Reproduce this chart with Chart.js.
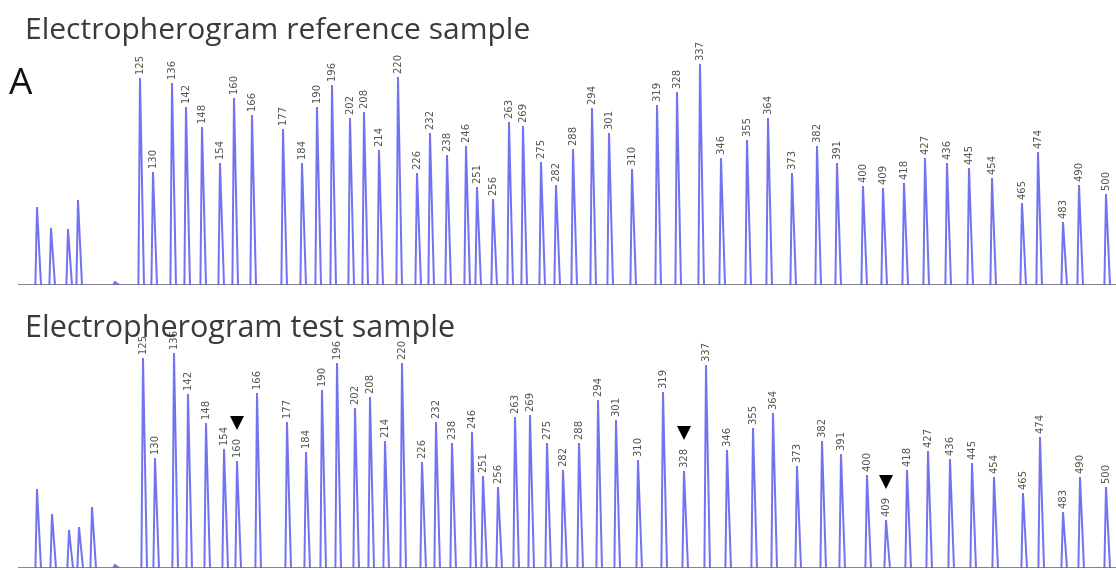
<!DOCTYPE html>
<html>
<head>
<meta charset="utf-8">
<script src="https://cdn.jsdelivr.net/npm/chart.js@4"></script>
<style>
  body { margin: 0; background: #fff; }
  #wrap { position: relative; width: 1116px; height: 570px; overflow: hidden; }
  .panel { position: absolute; left: 0; width: 1116px; }
  .title { position: absolute; font-family: "Open Sans", sans-serif; color: #3a3a3a; white-space: nowrap; }
</style>
</head>
<body>
<div id="wrap">
  <div class="panel" style="top:0;height:290px"><canvas id="refChart"></canvas></div>
  <div class="panel" style="top:290px;height:280px"><canvas id="testChart"></canvas></div>
  <div class="title" style="left:25px;top:8px;font-size:30px;line-height:40px">Electropherogram reference sample</div>
  <div class="title" style="left:9px;top:56px;font-size:37px;line-height:48px;color:#111">A</div>
  <div class="title" style="left:25px;top:305px;font-size:30.5px;line-height:40px">Electropherogram test sample</div>
</div>
<script>
// probe sizes (nt) labelled above every peak
var sizes = ['125','130','136','142','148','154','160','166','177','184','190','196','202','208','214','220',
  '226','232','238','246','251','256','263','269','275','282','288','294','301','310','319','328','337',
  '346','355','364','373','382','391','400','409','418','427','436','445','454','465','474','483','490','500'];

// reference sample: migration position and peak height
var refPos = [140,153,172,186,202,220,234,252,283,302,317,332,350,364,379,398,417,430,447,466,477,493,
  509,523,541,556,573,592,609,632,657,677,700,721,747,768,792,817,837,863,883,904,925,947,969,992,
  1022,1038,1063,1079,1106];
var refHeight = [207,113,202,178,158,122,187,170,156,122,178,200,167,173,135,208,112,152,130,139,98,86,
  163,159,123,100,136,177,152,116,180,193,221,127,145,167,112,139,122,99,97,102,127,122,117,107,
  82,133,63,100,91];
var refSmallPos = [37,51,68,78,115];
var refSmallHeight = [78,57,56,85,3];

// test sample
var testPos = [143,155,174,188,206,224,237,257,287,306,322,337,355,370,385,402,422,436,452,472,483,498,
  515,530,547,563,579,598,616,638,663,684,706,727,753,773,797,822,841,867,886,907,928,950,972,994,
  1023,1040,1063,1080,1106];
var testHeight = [210,110,215,174,145,119,107,175,146,116,178,205,160,171,127,205,106,146,125,136,92,81,
  151,153,125,98,125,168,148,108,176,97,203,118,140,155,102,127,114,93,48,98,117,109,105,91,
  75,131,56,91,81];
var testSmallPos = [37,52,69,79,92,115];
var testSmallHeight = [79,54,38,41,61,3];

// peaks with reduced signal in the test sample
var testMarked = ['160','328','409'];

var traceStart = 18;
var traceEnd = 1116;

function buildTrace(pos, heights, smallPos, smallHeights) {
    var pts = [];
    var all = [];
    for (var i = 0; i < smallPos.length; i++) all.push([smallPos[i], smallHeights[i]]);
    for (var j = 0; j < pos.length; j++) all.push([pos[j], heights[j]]);
    all.forEach(function (p) {
        pts.push({x: p[0] - 1.6, y: 0});
        pts.push({x: p[0], y: p[1]});
        pts.push({x: p[0] + 4, y: 0});
        pts.push({x: p[0] + 4, y: null});
    });
    return pts;
}

var peakLabels = {
    id: 'peakLabels',
    afterDatasetsDraw: function (chart, args, opts) {
        var ctx = chart.ctx;
        var xs = chart.scales.x, ys = chart.scales.y;
        ctx.save();
        ctx.font = '10px "DejaVu Sans"';
        ctx.fillStyle = '#555';
        ctx.textAlign = 'left';
        ctx.textBaseline = 'middle';
        for (var i = 0; i < opts.labels.length; i++) {
            var px = xs.getPixelForValue(opts.pos[i]);
            var py = ys.getPixelForValue(opts.heights[i]);
            ctx.save();
            ctx.translate(px, py - 3);
            ctx.rotate(-Math.PI / 2);
            ctx.fillText(opts.labels[i], 0, 0);
            ctx.restore();
            if (opts.marked.indexOf(opts.labels[i]) >= 0) {
                ctx.fillStyle = '#000';
                ctx.beginPath();
                ctx.moveTo(px, py - 31);
                ctx.lineTo(px - 7, py - 45);
                ctx.lineTo(px + 7, py - 45);
                ctx.closePath();
                ctx.fill();
                ctx.fillStyle = '#555';
            }
        }
        ctx.restore();
    }
};

function makeChart(id, pos, heights, smallPos, smallHeights, marked, yMax, padBottom) {
    return new Chart(document.getElementById(id).getContext('2d'), {
        type: 'line',
        data: {
            datasets: [
                {
                    data: buildTrace(pos, heights, smallPos, smallHeights),
                    borderColor: 'rgba(90, 90, 238, 0.85)',
                    borderWidth: 2,
                    pointRadius: 0,
                    spanGaps: false,
                    tension: 0
                },
                {
                    data: [{x: traceStart, y: 0}, {x: traceEnd, y: 0}],
                    borderColor: '#5b5b6e',
                    borderWidth: 1.5,
                    pointRadius: 0
                }
            ]
        },
        options: {
            responsive: true,
            maintainAspectRatio: false,
            animation: false,
            layout: { padding: { left: 0, right: 0, top: 0, bottom: padBottom } },
            scales: {
                x: { type: 'linear', min: 0, max: 1116, display: false },
                y: { min: 0, max: yMax, display: false }
            },
            plugins: {
                legend: { display: false },
                tooltip: { enabled: false },
                peakLabels: { labels: sizes, pos: pos, heights: heights, marked: marked }
            }
        },
        plugins: [peakLabels]
    });
}

makeChart('refChart', refPos, refHeight, refSmallPos, refSmallHeight, [], 285, 5);
makeChart('testChart', testPos, testHeight, testSmallPos, testSmallHeight, testMarked, 278, 2);
</script>
</body>
</html>
